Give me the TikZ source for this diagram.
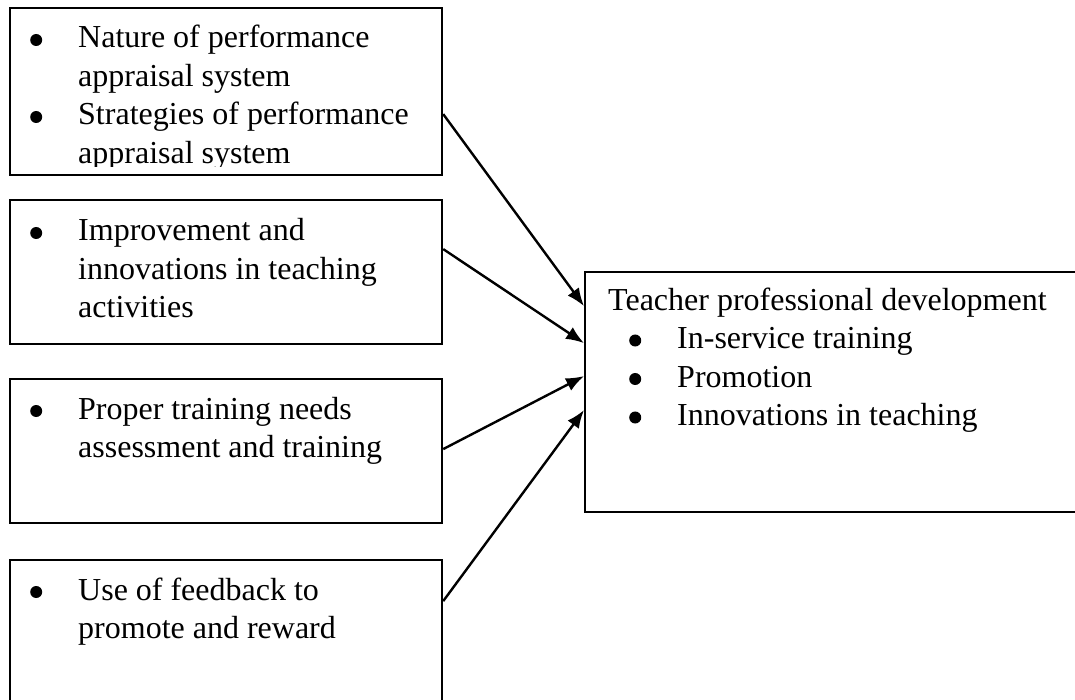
\documentclass[tikz,border=0pt]{standalone}
\usepackage{fontspec}
\setmainfont{Liberation Serif}
\usetikzlibrary{arrows.meta,positioning}

\newcommand\bul{\tikz[x=1pt,y=1pt,baseline=0pt]\fill (6,8) circle (6);}
\newcommand\pitem[2][0pt]{\par\noindent\hangindent=\dimexpr#1+48pt\relax\hangafter=1\hspace*{#1}\makebox[48pt][l]{\bul}#2}
\newcommand\lines[2][400pt]{\begin{minipage}[t]{#1}\raggedright#2\end{minipage}}

\begin{document}
\begin{tikzpicture}[x=1pt,y=-1pt,
  box/.style={draw,line width=2.2pt,minimum width=432pt,anchor=north west,inner sep=0pt},
  txt/.style={anchor=base west,inner sep=0pt,font=\fontsize{32}{38.5}\selectfont},
  arr/.style={line width=2.4pt,-{Latex[length=18pt,width=14pt]}}]
\useasboundingbox (0,0) rectangle (1075,700);
\clip (0,0) rectangle (1075,700);
\node[box,minimum height=167pt] (b1) at (9,7) {};
\node[box,minimum height=144pt] (b2) at (9,199) {};
\node[box,minimum height=144pt] (b3) at (9,378) {};
\node[box,minimum height=144pt] (b4) at (9,559) {};
\node[box,minimum width=500pt,minimum height=240pt] (tpd) at (584,271) {};
\begin{scope}
\clip (b1.north west) rectangle ([yshift=10pt]b1.south east);
\node[txt] (t1) at ([xshift=21pt,yshift=-41pt]b1.north west)
  {\lines{\pitem{Nature of performance\newline appraisal system}\pitem{Strategies of performance\newline appraisal system}}};
\end{scope}
\node[txt] (t2) at ([xshift=21pt,yshift=-42pt]b2.north west)
  {\lines{\pitem{Improvement and\newline innovations in teaching\newline activities}}};
\node[txt] (t3) at ([xshift=21pt,yshift=-41pt]b3.north west)
  {\lines{\pitem{Proper training needs\newline assessment and training}}};
\node[txt] (t4) at ([xshift=21pt,yshift=-41pt]b4.north west)
  {\lines{\pitem{Use of feedback to\newline promote and reward}}};
\node[txt] (t5) at ([xshift=24pt,yshift=-39pt]tpd.north west)
  {\lines[460pt]{Teacher professional development\pitem[21pt]{In-service training}\pitem[21pt]{Promotion}\pitem[21pt]{Innovations in teaching}}};
\draw[arr] ([yshift=-22.5pt]b1.east) -- ([yshift=86pt]tpd.west);
\draw[arr] ([yshift=23pt]b2.east) -- ([yshift=49pt]tpd.west);
\draw[arr] ([yshift=2pt]b3.east) -- ([yshift=16pt]tpd.west);
\draw[arr] ([yshift=31pt]b4.east) -- ([yshift=-18pt]tpd.west);
\end{tikzpicture}
\end{document}
